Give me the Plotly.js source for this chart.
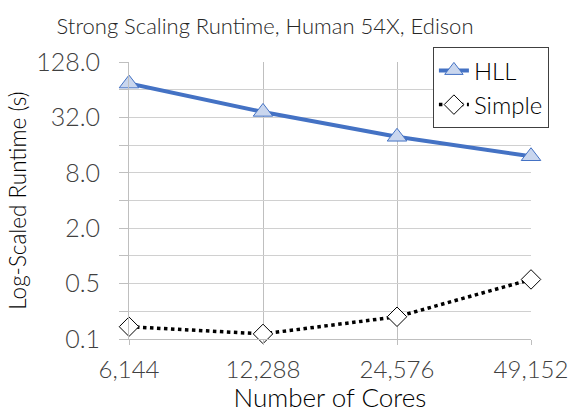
<!DOCTYPE html>
<html><head><meta charset="utf-8">
<script src="https://cdn.plot.ly/plotly-3.0.1.min.js"></script>
<style>html,body{margin:0;padding:0;background:#fff}#chart{width:570px;height:413px}</style>
</head><body><div id="chart"></div>
<script>
const cores = ["6,144", "12,288", "24,576", "49,152"];
const hll = [74.6, 36.7, 19.7, 12.1];
const simple = [0.170, 0.142, 0.218, 0.555];
const yTickVals = [0.125, 0.25, 0.5, 1, 2, 4, 8, 16, 32, 64, 128];
const yTickText = ["0.1", "", "0.5", "", "2.0", "", "8.0", "", "32.0", "", "128.0"];

const font = "Lato, 'Open Sans', sans-serif";
const traces = [
  {x: cores, y: hll, name: "HLL", type: "scatter", mode: "lines+markers",
   line: {color: "#4472C4", width: 4},
   marker: {symbol: "triangle-up", size: 17, color: "#C9D6EE", line: {color: "#4472C4", width: 1}},
   cliponaxis: false},
  {x: cores, y: simple, name: "Simple", type: "scatter", mode: "lines+markers",
   line: {color: "#000000", width: 3.5, dash: "dot"},
   marker: {symbol: "diamond", size: 15, color: "#ffffff", line: {color: "#000000", width: 1}},
   cliponaxis: false}
];
const layout = {
  width: 570, height: 413,
  margin: {l: 129, r: 39, t: 62, b: 74},
  paper_bgcolor: "#fff", plot_bgcolor: "#fff",
  font: {family: font, color: "#404040", weight: 300},
  title: {text: "Strong Scaling Runtime, Human 54X, Edison", font: {family: font, size: 22, color: "#262626", weight: 300},
          x: 0.465, xanchor: "center", y: 0.936, yanchor: "middle"},
  xaxis: {type: "category", range: [0, 3], showgrid: true, gridcolor: "#BFBFBF", gridwidth: 1,
          showline: true, linecolor: "#BFBFBF", ticks: "outside", ticklen: 5, tickcolor: "#BFBFBF",
          tickfont: {size: 24, color: "#404040", weight: 300}, ticklabelstandoff: 4,
          title: {text: "Number of Cores", font: {size: 26, color: "#000", weight: 300}, standoff: 10}, zeroline: false},
  yaxis: {type: "log", range: [Math.log10(0.125), Math.log10(128)], tickvals: yTickVals, ticktext: yTickText,
          showgrid: true, gridcolor: "#D0D0D0", gridwidth: 1, showline: true, linecolor: "#BFBFBF",
          ticks: "outside", ticklen: 9, tickcolor: "#BFBFBF", tickfont: {size: 25, color: "#404040", weight: 300},
          ticklabelstandoff: 14,
          title: {text: "Log-Scaled Runtime (s)", font: {size: 22.5, color: "#000", weight: 300}, standoff: 3}, zeroline: false},
  legend: {x: 0.756, y: 1.053, xanchor: "left", yanchor: "top", bgcolor: "#fff", bordercolor: "#404040", borderwidth: 1,
           font: {size: 24, color: "#000", weight: 300}, tracegroupgap: 0, itemwidth: 30},
  showlegend: true
};
Plotly.newPlot("chart", traces, layout, {displayModeBar: false, staticPlot: true});
</script></body></html>
